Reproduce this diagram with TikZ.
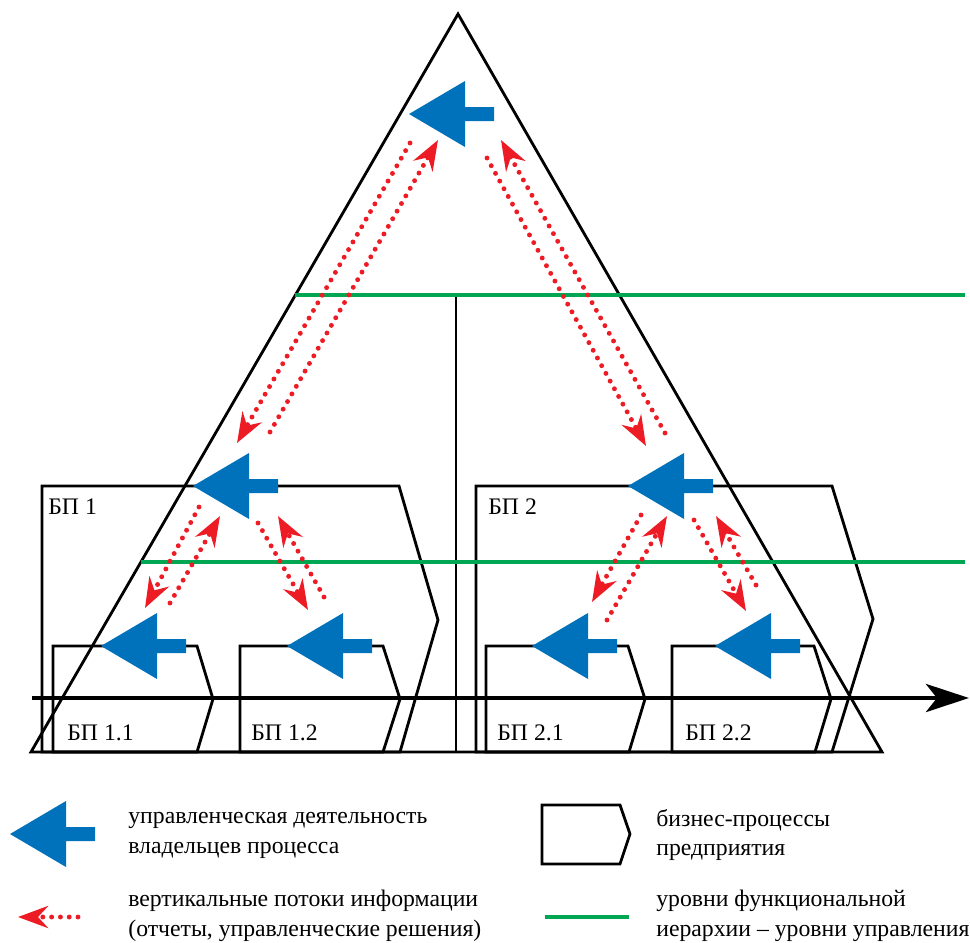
\documentclass[tikz,border=0pt]{standalone}
\usepackage{fontspec}
\setmainfont{Liberation Serif}
\usetikzlibrary{arrows.meta}

\definecolor{ownerblue}{RGB}{0,114,188}
\definecolor{flowred}{RGB}{237,28,36}
\definecolor{levelgreen}{RGB}{0,166,81}

\tikzset{
  % владелец процесса: синяя стрелка, остриё в (0,0)
  owner/.pic={
    \fill[ownerblue] (0,0) -- (56,-33) -- (56,-7) -- (85,-7) -- (85,7) -- (56,7) -- (56,33) -- cycle;
  },
  proc/.style={black, line width=1.6pt},
  level/.style={levelgreen, line width=2.8pt},
  flow/.style={flowred, line width=2.8pt, line cap=round, dash pattern=on 0pt off 5pt,
    -{Stealth[length=6mm, width=4.4mm, inset=2mm]}},
  lbl/.style={anchor=west, inner sep=0pt, align=left, font=\fontsize{13.5}{17}\selectfont},
}

\begin{document}
\begin{tikzpicture}[x=0.2mm, y=-0.2mm]
            \useasboundingbox (0,0) rectangle (970,942);

            % бизнес-процессы верхнего уровня
            \draw[proc] (42,752) -- (42,486) -- (399,486) -- (438,620) -- (400,752) -- cycle;
            \draw[proc] (476,752) -- (476,486) -- (832,486) -- (873,619) -- (832,752) -- cycle;

            % бизнес-процессы нижнего уровня
            \draw[proc] (53,752) -- (53,646) -- (197,646) -- (213,699) -- (197,752) -- cycle;
            \draw[proc] (240,752) -- (240,646) -- (383,646) -- (400,699) -- (383,752) -- cycle;
            \draw[proc] (486,752) -- (486,646) -- (628,646) -- (645,699) -- (629,752) -- cycle;
            \draw[proc] (672,752) -- (672,646) -- (814,646) -- (831,699) -- (815,752) -- cycle;

            % пирамида управления и разделитель
            \draw[proc] (31,752) -- (458,14) -- (882,752) -- cycle;
            \draw[proc] (456,295) -- (456,752);

            % уровни иерархии
            \draw[level] (295,295) -- (965,295);
            \draw[level] (141,562) -- (965,562);

            % ось процессов
            \coordinate (axs) at (32,698);
            \coordinate (axe) at (969,698);
            \draw[line width=2.8pt, -{Stealth[length=8.6mm, width=5.6mm, inset=2.2mm]}] (axs) -- (axe);

            % владельцы процессов
            \pic at (409,114) {owner};
            \pic at (193,486) {owner};
            \pic at (628,486) {owner};
            \pic at (101,646) {owner};
            \pic at (287,646) {owner};
            \pic at (532,646) {owner};
            \pic at (715,646) {owner};

            % потоки информации: начало (s) и остриё (e)
            \coordinate (s1) at (410,143);  \coordinate (e1) at (237,443);
            \coordinate (s2) at (270,432);  \coordinate (e2) at (438,140);
            \coordinate (s3) at (487,158);  \coordinate (e3) at (646,446);
            \coordinate (s4) at (665,433);  \coordinate (e4) at (501,140);
            \coordinate (s5) at (199,507);  \coordinate (e5) at (145,608);
            \coordinate (s6) at (170,603);  \coordinate (e6) at (220,516);
            \coordinate (s7) at (258,523);  \coordinate (e7) at (308,610);
            \coordinate (s8) at (324,597);  \coordinate (e8) at (278,516);
            \coordinate (s9) at (641,515);  \coordinate (e9) at (592,602);
            \coordinate (s10) at (607,620); \coordinate (e10) at (667,516);
            \coordinate (s11) at (694,520); \coordinate (e11) at (746,611);
            \coordinate (s12) at (756,585); \coordinate (e12) at (716,516);
            \foreach \i in {1,...,12} {
                \draw[flow] (s\i) -- (e\i);
            }

            % подписи процессов
            \node[lbl] (bp1) at (48,507) {БП 1};
            \node[lbl] (bp2) at (488,507) {БП 2};
            \node[lbl] (bp11) at (67,733) {БП 1.1};
            \node[lbl] (bp12) at (251,733) {БП 1.2};
            \node[lbl] (bp21) at (497,733) {БП 2.1};
            \node[lbl] (bp22) at (685,733) {БП 2.2};

            % легенда
            \pic at (10,834) {owner};
            \node[lbl] (legowner) at (128,835) {управленческая деятельность\\владельцев процесса};

            \coordinate (lfs) at (78,917);
            \coordinate (lfe) at (18,917);
            \draw[flow] (lfs) -- (lfe);
            \node[lbl] (legflow) at (128,916) {вертикальные потоки информации\\(отчеты, управленческие решения)};

            \draw[proc] (542,805) -- (620,805) -- (630,834) -- (620,864) -- (542,864) -- cycle;
            \node[lbl] (legproc) at (656,835) {бизнес-процессы\\предприятия};

            \coordinate (lls) at (545,917);
            \coordinate (lle) at (629,917);
            \draw[level] (lls) -- (lle);
            \node[lbl] (leglevel) at (656,916) {уровни функциональной\\иерархии – уровни управления};

\end{tikzpicture}
\end{document}
